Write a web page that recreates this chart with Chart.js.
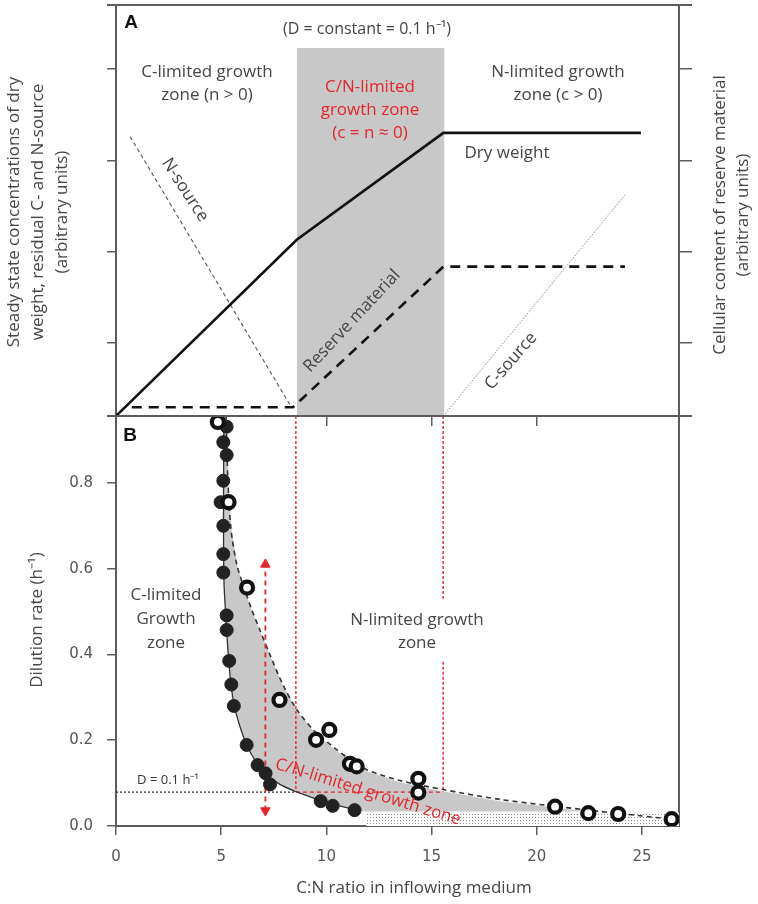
<!DOCTYPE html>
<html>
<head>
<meta charset="utf-8">
<script src="https://cdn.jsdelivr.net/npm/chart.js@4.4.1/dist/chart.umd.min.js"></script>
<style>
  body { margin: 0; background: #fff; }
  #wrap { position: relative; width: 758px; height: 904px; }
  canvas { position: absolute; left: 0; top: 0; }
</style>
</head>
<body>
<div id="wrap">
  <canvas id="panelA" width="758" height="440"></canvas>
  <canvas id="panelB" width="758" height="904"></canvas>
</div>
<script>
// ---- data ----

// shared C:N axis
const xMax = 26.76;
const xTicks = [0, 5, 10, 15, 20, 25];
const xTicksA = [10, 15, 20];

// panel A, arbitrary units
const yMaxA = 4.5;
const yTicksA = [0.8, 1.8, 2.8, 3.8];
const dryWeight = [[0, 0], [8.59, 1.93], [15.56, 3.10], [24.95, 3.10]];
const reserveMaterial = [[0.75, 0.095], [8.41, 0.095], [15.56, 1.635], [24.19, 1.635]];
const nSource = [[0.67, 3.06], [8.3, 0.11]];
const cSource = [[15.56, 0], [24.19, 2.42]];
const cnZoneA = [[8.6, 0], [8.6, 4.03], [15.6, 4.03], [15.6, 0]];

// panel B, dilution rate (h-1)
const yMaxB = 0.956;
const yTicksB = [0, 0.2, 0.4, 0.6, 0.8];
const cLimRatio = [5.26, 5.10, 5.26, 5.10, 4.97, 5.10, 5.10, 5.10, 5.26, 5.26, 5.38, 5.48, 5.60, 6.21, 6.73, 7.11, 7.32, 9.73, 10.30, 11.34];
const cLimD = [0.931, 0.895, 0.865, 0.805, 0.755, 0.700, 0.634, 0.591, 0.491, 0.457, 0.385, 0.330, 0.280, 0.189, 0.142, 0.123, 0.097, 0.058, 0.047, 0.037];
const nLimRatio = [4.84, 5.35, 6.23, 7.77, 9.51, 10.14, 11.12, 11.44, 14.37, 14.37, 20.87, 22.45, 23.87, 26.41];
const nLimD = [0.942, 0.755, 0.556, 0.294, 0.201, 0.224, 0.145, 0.139, 0.110, 0.078, 0.045, 0.030, 0.028, 0.016];

// fitted curves
const cFit = [[5.13, 0.956], [5.11, 0.759], [5.13, 0.573], [5.23, 0.480], [5.32, 0.410], [5.44, 0.341], [5.61, 0.283],
  [5.89, 0.232], [6.23, 0.187], [6.65, 0.150], [7.13, 0.122], [7.79, 0.097], [8.56, 0.080], [9.46, 0.064], [10.41, 0.050], [11.36, 0.038]];
const nFit = [[5.23, 0.956], [5.32, 0.806], [5.47, 0.690], [5.75, 0.608], [6.13, 0.550], [6.46, 0.503], [6.84, 0.457],
  [7.32, 0.399], [7.94, 0.329], [8.60, 0.271], [9.46, 0.220], [10.31, 0.185], [11.12, 0.155], [11.93, 0.131], [13.50, 0.106],
  [15.54, 0.085], [18.25, 0.062], [20.87, 0.046], [23.00, 0.034], [24.90, 0.024], [26.43, 0.016]];
// grey band between both fits, and dotted band underneath
const cnZoneB = [[5.25, 0.956], [5.34, 0.806], [5.49, 0.690], [5.77, 0.606], [6.15, 0.546], [6.48, 0.499], [6.86, 0.453],
  [7.34, 0.395], [7.96, 0.325], [8.62, 0.267], [9.48, 0.216], [10.33, 0.181], [11.14, 0.151], [11.95, 0.127], [13.50, 0.102],
  [15.54, 0.081], [18.25, 0.058], [20.87, 0.043], [22.4, 0.034], [11.8, 0.034], [11.36, 0.038], [10.41, 0.050], [9.46, 0.064],
  [8.56, 0.080], [7.79, 0.097], [7.13, 0.122], [6.65, 0.150], [6.23, 0.187], [5.89, 0.232], [5.61, 0.283], [5.44, 0.341],
  [5.32, 0.410], [5.23, 0.480], [5.13, 0.573], [5.11, 0.759], [5.13, 0.956]];
const residualBand = [[11.9, 0], [11.9, 0.031], [26.76, 0.031], [26.76, 0]];

// guide lines
const dLevel = 0.079;
const cnLeft = 8.55, cnRight = 15.55;
const arrowX = 7.1, arrowLow = 0.036, arrowHigh = 0.61;
const textGap = [0.53, 0.383];

// ---- helpers ----
const AXIS = '#5c5c5c';
const TEXT = '#454545';
const RED = '#e3262b';
const FONT = '"Open Sans", sans-serif';
const pts = arr => arr.map(p => ({ x: p[0], y: p[1] }));
const setTicks = list => s => { s.ticks = list.map(v => ({ value: v })); };

function stipple() {
  const c = document.createElement('canvas');
  c.width = 3; c.height = 3;
  const g = c.getContext('2d');
  g.fillStyle = '#ffffff'; g.fillRect(0, 0, 3, 3);
  g.fillStyle = '#8c8c8c'; g.fillRect(1, 1, 1, 1);
  return g.createPattern(c, 'repeat');
}

// free text + frame lines
const notes = {
  id: 'notes',
  afterDraw(chart, args, opts) {
    const ctx = chart.ctx;
    const a = chart.chartArea;
    ctx.save();
    ctx.strokeStyle = AXIS;
    ctx.lineWidth = 2;
    ctx.beginPath();
    ctx.moveTo(a.left - 9, a.top);
    ctx.lineTo(a.right + 13, a.top);
    ctx.stroke();
    ctx.restore();
    (opts.items || []).forEach(t => {
      ctx.save();
      ctx.translate(t.x, t.y);
      ctx.rotate((t.rot || 0) * Math.PI / 180);
      ctx.font = t.font || ('17px ' + FONT);
      ctx.fillStyle = t.color || TEXT;
      ctx.textAlign = 'center';
      ctx.textBaseline = 'middle';
      ctx.fillText(t.text, 0, 0);
      ctx.restore();
    });
  }
};

function line(data, color, width, dash, order) {
  return {
    data: pts(data), borderColor: color, borderWidth: width, borderDash: dash || [],
    pointRadius: 0, fill: false, tension: 0, order: order || 5
  };
}

function axisStyle(tickLen) {
  return {
    grid: { drawOnChartArea: false, drawTicks: true, tickLength: tickLen, color: AXIS, lineWidth: 1.5 },
    border: { color: AXIS, width: 2 }
  };
}

// ---- panel A ----
new Chart(document.getElementById('panelA'), {
  type: 'line',
  data: {
    datasets: [
      { data: pts(cnZoneA), showLine: true, fill: 'shape', backgroundColor: '#c8c8c8', borderWidth: 0, pointRadius: 0, order: 10 },
      line(dryWeight, '#111', 2.6),
      line(reserveMaterial, '#111', 2.6, [10, 7]),
      line(nSource, '#555', 1.1, [4, 3]),
      line(cSource, '#888', 1, [1.5, 1.5])
    ]
  },
  options: {
    responsive: false, animation: false, devicePixelRatio: 1,
    layout: { padding: { top: 5, left: 0, right: 0, bottom: 0 } },
    plugins: {
      legend: { display: false }, tooltip: { enabled: false },
      notes: {
        items: [
          { text: 'A', x: 131, y: 23, font: 'bold 19px "Liberation Sans", Arial', color: '#111' },
          { text: '(D = constant = 0.1 h\u207B\u00B9)', x: 367, y: 29, font: '16px ' + FONT },
          { text: 'C-limited growth', x: 207, y: 72 },
          { text: 'zone (n > 0)', x: 207, y: 95 },
          { text: 'C/N-limited', x: 370, y: 87, color: RED },
          { text: 'growth zone', x: 370, y: 110, color: RED },
          { text: '(c = n \u2248 0)', x: 370, y: 133, color: RED },
          { text: 'N-limited growth', x: 558, y: 72 },
          { text: 'zone (c > 0)', x: 558, y: 95 },
          { text: 'Dry weight', x: 507, y: 153 },
          { text: 'N-source', x: 185, y: 190, rot: 57 },
          { text: 'Reserve material', x: 352, y: 321, rot: -47 },
          { text: 'C-source', x: 511, y: 361, rot: -49 },
          { text: 'Steady state concentrations of dry', x: 14, y: 212, rot: -90 },
          { text: 'weight, residual C- and N-source', x: 38, y: 212, rot: -90 },
          { text: '(arbitrary units)', x: 62, y: 212, rot: -90 },
          { text: 'Cellular content of reserve material', x: 720, y: 215, rot: -90 },
          { text: '(arbitrary units)', x: 743, y: 215, rot: -90 }
        ]
      }
    },
    scales: {
      x: Object.assign({
        type: 'linear', min: 0, max: xMax,
        afterFit: s => { s.height = 24; },
        afterBuildTicks: setTicks(xTicksA),
        ticks: { display: false }
      }, axisStyle(10)),
      y: Object.assign({
        min: 0, max: yMaxA,
        afterFit: s => { s.width = 116; },
        afterBuildTicks: setTicks(yTicksA),
        ticks: { display: false }
      }, axisStyle(9)),
      yr: Object.assign({
        position: 'right', min: 0, max: yMaxA,
        afterFit: s => { s.width = 79; },
        afterBuildTicks: setTicks(yTicksA),
        ticks: { display: false }
      }, axisStyle(13))
    }
  },
  plugins: [notes]
});

// ---- panel B ----
const ctxB = document.getElementById('panelB');
new Chart(ctxB, {
  type: 'line',
  data: {
    datasets: [
      { data: pts(residualBand), showLine: true, fill: 'shape', backgroundColor: stipple(), borderWidth: 0, pointRadius: 0, order: 11 },
      { data: pts(cnZoneB), showLine: true, fill: 'shape', backgroundColor: '#c8c8c8', borderWidth: 0, pointRadius: 0, order: 10 },
      Object.assign(line(cFit, '#333', 1.3), { tension: 0.3 }),
      Object.assign(line(nFit, '#333', 1.6, [5, 4]), { tension: 0.3 }),
      line([[0, dLevel], [cnLeft, dLevel]], '#222', 1.2, [2, 2]),
      line([[cnLeft, dLevel], [cnRight, dLevel]], RED, 1.4, [4, 3]),
      line([[cnLeft, yMaxB], [cnLeft, dLevel]], RED, 1.4, [3, 2]),
      Object.assign(line([[cnRight, yMaxB], [cnRight, textGap[0]], [cnRight, null], [cnRight, textGap[1]], [cnRight, dLevel]], RED, 1.4, [3, 2]), { spanGaps: false }),
      {
        data: pts([[arrowX, arrowLow], [arrowX, arrowHigh]]), borderColor: RED, borderWidth: 1.8, borderDash: [5, 4],
        pointStyle: 'triangle', pointRadius: 5.5, pointRotation: [180, 0], pointBackgroundColor: RED, pointBorderColor: RED,
        pointBorderWidth: 1, fill: false, order: 4
      },
      {
        data: cLimRatio.map((v, i) => ({ x: v, y: cLimD[i] })), showLine: false,
        pointRadius: 6.5, pointBackgroundColor: '#222', pointBorderColor: '#222', pointBorderWidth: 1, order: 2
      },
      {
        data: nLimRatio.map((v, i) => ({ x: v, y: nLimD[i] })), showLine: false,
        pointRadius: 6, pointBackgroundColor: '#fff', pointBorderColor: '#111', pointBorderWidth: 4.2, order: 1
      }
    ]
  },
  options: {
    responsive: false, animation: false, devicePixelRatio: 1,
    layout: { padding: { top: 416, left: 0, right: 0, bottom: 0 } },
    plugins: {
      legend: { display: false }, tooltip: { enabled: false },
      notes: {
        items: [
          { text: 'B', x: 130, y: 436, font: 'bold 19px "Liberation Sans", Arial', color: '#111' },
          { text: 'C-limited', x: 166, y: 595 },
          { text: 'Growth', x: 166, y: 619 },
          { text: 'zone', x: 166, y: 643 },
          { text: 'N-limited growth', x: 417, y: 620 },
          { text: 'zone', x: 417, y: 643 },
          { text: 'D = 0.1 h\u207B\u00B9', x: 168, y: 780, font: '13px ' + FONT, color: '#333' },
          { text: 'C/N-limited growth zone', x: 368, y: 792, rot: 17, color: RED, font: '17px ' + FONT },
          { text: 'Dilution rate (h\u207B\u00B9)', x: 37, y: 620, rot: -90 },
          { text: 'C:N ratio in inflowing medium', x: 414, y: 888 }
        ]
      }
    },
    scales: {
      x: Object.assign({
        type: 'linear', min: 0, max: xMax,
        afterFit: s => { s.height = 78; },
        afterBuildTicks: setTicks(xTicks),
        ticks: { padding: 13, color: '#555', autoSkip: false, maxRotation: 0, font: { family: 'DejaVu Sans', size: 15 }, callback: v => String(v) }
      }, axisStyle(9)),
      y: Object.assign({
        min: 0, max: yMaxB,
        afterFit: s => { s.width = 116; },
        afterBuildTicks: setTicks(yTicksB),
        ticks: { padding: 14, color: '#555', autoSkip: false, font: { family: 'DejaVu Sans', size: 15 }, callback: v => v.toFixed(1) }
      }, axisStyle(9)),
      yr: {
        position: 'right', min: 0, max: yMaxB,
        afterFit: s => { s.width = 79; },
        grid: { display: false },
        ticks: { display: false },
        border: { color: AXIS, width: 2 }
      }
    }
  },
  plugins: [notes]
});
</script>
</body>
</html>
